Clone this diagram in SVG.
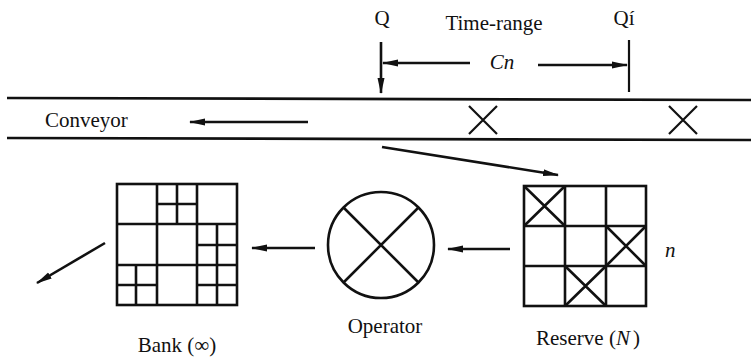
<svg xmlns="http://www.w3.org/2000/svg" width="751" height="358" viewBox="0 0 751 358">
<defs>
<marker id="ah" viewBox="0 0 16 8" refX="15" refY="4" markerWidth="16" markerHeight="8" markerUnits="userSpaceOnUse" orient="auto">
<path d="M0,0.5 L16,4 L0,7.5 z" fill="#111"/>
</marker>
<style>
.ln{stroke:#111;stroke-width:2.6;fill:none}
.th{stroke:#111;stroke-width:2.2;fill:none}
.arr{stroke:#111;stroke-width:2.6;fill:none;marker-end:url(#ah)}
.lbl{font-size:21px;fill:#111}
.it{font-style:italic}
</style>
</defs>
<rect width="751" height="358" fill="#fff"/>

<g font-family="Liberation Serif, Times New Roman, DejaVu Serif, serif">
<g id="conveyor">
<line class="ln" x1="7" y1="98" x2="751" y2="100"/>
<line class="ln" x1="7" y1="138" x2="751" y2="140"/>
<text class="lbl" x="45" y="127">Conveyor</text>
<path class="th" d="M469,106 L497,134 M497,106 L469,134"/>
<path class="th" d="M669,106 L697,134 M697,106 L669,134"/>
</g>

<g id="time-range">
<text class="lbl" x="382" y="25" text-anchor="middle">Q</text>
<text class="lbl" x="624" y="25" text-anchor="middle">Qí</text>
<text class="lbl" x="494" y="30" text-anchor="middle">Time-range</text>
<text class="lbl it" x="502" y="69" text-anchor="middle" font-size="18">Cn</text>
<line class="th" x1="629" y1="40" x2="629" y2="92"/>
</g>

<g id="bank">
<rect class="ln" x="117" y="184" width="120" height="121"/>
<path class="ln" d="M157,184 V305 M197,184 V305 M117,224 H237 M117,265 H237"/>
<path class="ln" d="M177,184 V224 M157,204 H197 M217,224 V265 M197,245 H237 M136,265 V305 M117,285 H157 M217,265 V305 M197,285 H237"/>
<text class="lbl" x="177" y="352" text-anchor="middle">Bank (∞)</text>
</g>

<g id="operator">
<circle class="ln" cx="381" cy="245" r="53"/>
<path class="ln" d="M343.5,207.5 L418.5,282.5 M418.5,207.5 L343.5,282.5"/>
<text class="lbl" x="385" y="333" text-anchor="middle">Operator</text>
</g>

<g id="reserve">
<rect class="ln" x="524" y="186" width="122" height="120"/>
<path class="ln" d="M565,186 V306 M606,186 V306 M524,226 H646 M524,266 H646"/>
<path class="ln" d="M524,186 L565,226 M565,186 L524,226 M606,226 L646,266 M646,226 L606,266 M565,266 L606,306 M606,266 L565,306"/>
<text class="lbl" x="588" y="345" text-anchor="middle">Reserve (<tspan class="it">N</tspan><tspan dx="3">)</tspan></text>
<text class="lbl it" x="665" y="257">n</text>
</g>
</g>

<g id="connectors">
<line class="arr" x1="381" y1="42" x2="381" y2="93"/>
<line class="arr" x1="470" y1="63" x2="383" y2="63"/>
<line class="arr" x1="538" y1="65" x2="627" y2="65"/>
<line class="arr" x1="308" y1="122" x2="190" y2="122"/>
<line class="arr" x1="382" y1="147" x2="558" y2="175"/>
<line class="arr" x1="510" y1="249" x2="448" y2="249"/>
<line class="arr" x1="315" y1="248" x2="252" y2="248"/>
<line class="arr" x1="105" y1="243" x2="37" y2="283"/>
</g>
</svg>
